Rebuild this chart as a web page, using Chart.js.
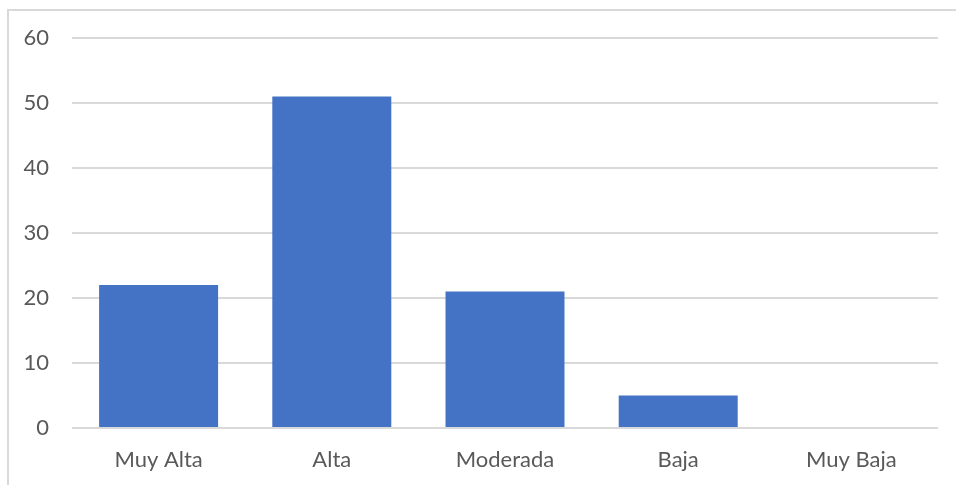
<!DOCTYPE html>
<html>
<head>
<meta charset="utf-8">
<script src="https://cdn.jsdelivr.net/npm/chart.js@4.4.0/dist/chart.umd.min.js"></script>
<style>
  html, body { margin: 0; padding: 0; background: #ffffff; }
  #wrap { width: 956px; height: 485px; position: relative; }
</style>
</head>
<body>
<div id="wrap"><canvas id="chart" width="956" height="485"></canvas></div>
<script>
// Categories and counts
const categories = ["Muy Alta", "Alta", "Moderada", "Baja", "Muy Baja"];
const counts = [22, 51, 21, 5, 0];
const yTicks = [0, 10, 20, 30, 40, 50, 60];

// Light frame drawn along the top and left edges of the chart box
const framePlugin = {
  id: 'frame',
  beforeDraw(chart) {
    const ctx = chart.ctx;
    ctx.save();
    ctx.strokeStyle = '#d9d9d9';
    ctx.lineWidth = 2;
    ctx.beginPath();
    ctx.moveTo(8, 485);
    ctx.lineTo(8, 10);
    ctx.lineTo(956, 10);
    ctx.stroke();
    ctx.restore();
  }
};

new Chart(document.getElementById('chart'), {
  type: 'bar',
  data: {
    labels: categories,
    datasets: [{
      data: counts,
      backgroundColor: '#4472C4',
      borderWidth: 0,
      categoryPercentage: 1,
      barPercentage: 0.687
    }]
  },
  options: {
    responsive: false,
    animation: false,
    layout: { padding: { top: 38, right: 18, left: 0, bottom: 0 } },
    plugins: { legend: { display: false }, tooltip: { enabled: false } },
    scales: {
      x: {
        grid: { display: false, drawTicks: false },
        border: { display: false },
        ticks: {
          color: '#595959',
          font: { family: 'Lato', size: 22 },
          padding: 19,
          maxRotation: 0
        },
        afterFit(scale) { scale.height = 57; }
      },
      y: {
        min: 0,
        max: 60,
        afterBuildTicks(scale) { scale.ticks = yTicks.map(v => ({ value: v })); },
        grid: { color: '#d9d9d9', lineWidth: 2, drawTicks: false },
        border: { display: false },
        ticks: {
          color: '#595959',
          font: { family: 'Lato', size: 22 },
          padding: 23
        },
        afterFit(scale) { scale.width = 72; }
      }
    }
  },
  plugins: [framePlugin]
});
</script>
</body>
</html>
